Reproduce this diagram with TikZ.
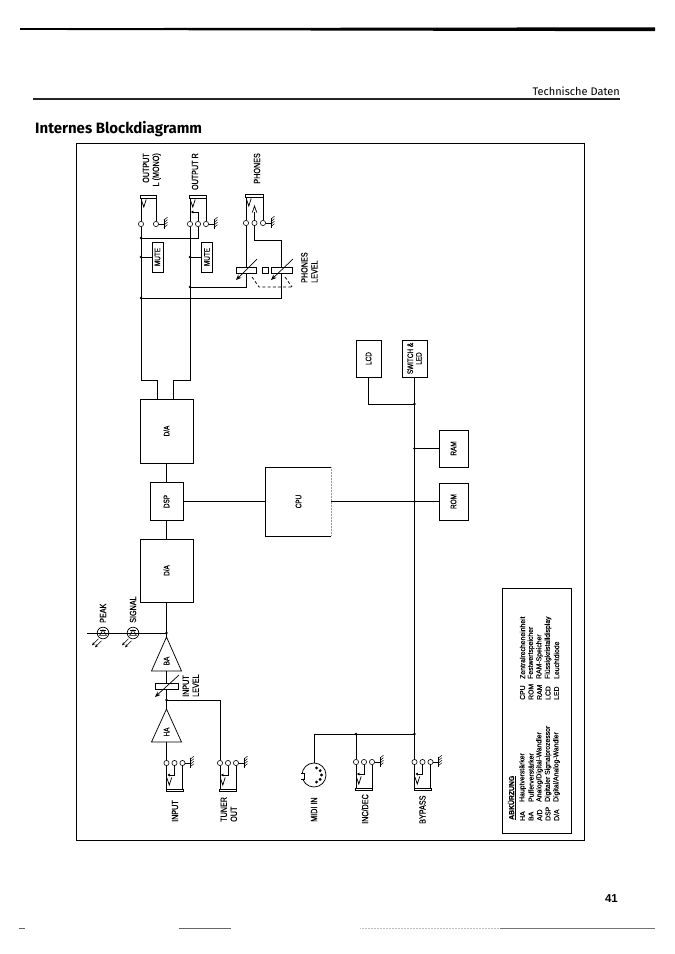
\documentclass[tikz,border=0pt]{standalone}
\usepackage{fontspec}
\usepackage{graphicx}
\setmainfont{Liberation Sans}
\newfontfamily\narf{Liberation Sans}[FakeStretch=0.8, FakeBold=0.6]
\newfontfamily\legf{Liberation Sans}[FakeStretch=0.95, FakeBold=0.4]
\newfontfamily\titf{Fira Sans}
\usetikzlibrary{arrows.meta}

\tikzset{
 wire/.style={line width=0.75pt},
 blk/.style={draw, line width=0.75pt, inner sep=0pt, font=\narf\fontsize{8}{9}\selectfont},
 blbl/.style={inner sep=0pt, font=\narf\fontsize{8}{9}\selectfont},
 term/.style={circle, draw, line width=0.6pt, fill=white, inner sep=0pt, minimum size=5.2pt},
 jdot/.style={circle, fill, inner sep=0pt, minimum size=2.8pt},
 lbl/.style={rotate=90, inner sep=0pt, font=\narf\fontsize{9}{10}\selectfont},
 leg/.style={rotate=90, anchor=west, inner sep=0pt, font=\legf\fontsize{7.2}{8}\selectfont},
 potbox/.style={draw, line width=0.9pt, inner sep=0pt, minimum height=6pt},
 potarrow/.style={line width=0.7pt, -{Stealth[length=5.5pt,width=4.5pt]}},
 ledarrow/.style={line width=0.6pt, -{Stealth[length=3.2pt,width=2.8pt]}},
 swarrow/.style={line width=0.7pt, -{Triangle[length=2.4pt,width=2.8pt]}},
 gnd/.pic={
  \draw[line width=0.6pt] (2.6,0) -- (8,0);
  \draw[line width=0.7pt] (8,-5) -- (8,5);
  \foreach \k in {-4,-1.5,1,3.5}{\draw[line width=0.5pt] (8,\k) -- (11.5,\k-2.8);}
 },
 jacktopL/.pic={
  \node[term] (-t1) at (0,0) {};
  \node[term] (-t2) at (15,0) {};
  \draw[line width=0.6pt] (-0.3,-28.5) rectangle (15.3,-25.8);
  \draw[wire] (0,-2.6) -- (0,-25.8);
  \draw[wire] (0.4,-24) -- (2.8,-17) -- (5.2,-24.5);
  \draw[wire] (15,-2.6) -- (15,-25.8);
  \pic at (15,0) {gnd};
 },
 jacktopR/.pic={
  \node[term] (-t1) at (0,0) {};
  \node[term] (-t2) at (8,0) {};
  \node[term] (-t3) at (16,0) {};
  \draw[line width=0.6pt] (-0.3,-28.5) rectangle (16.3,-25.8);
  \draw[wire] (0,-2.6) -- (0,-25.8);
  \draw[wire] (0.4,-24) -- (2.8,-17) -- (5.2,-24.5);
  \draw[swarrow] (8,-2.6) -- (8,-12) -- (1,-12);
  \draw[wire] (16,-2.6) -- (16,-25.8);
  \pic at (16,0) {gnd};
 },
 jackph/.pic={
  \node[term] (-t1) at (0,0) {};
  \node[term] (-t2) at (8.5,0) {};
  \node[term] (-t3) at (17,0) {};
  \draw[line width=0.6pt] (-0.3,-28.5) rectangle (17.3,-25.8);
  \draw[wire] (0,-2.6) -- (0,-25.8);
  \draw[wire] (0.4,-24) -- (2.8,-17) -- (5.2,-24.5);
  \draw[wire] (8.5,-2.6) -- (8.5,-11);
  \draw[wire] (6.3,-10.5) -- (8.5,-17) -- (10.7,-10.5);
  \draw[wire] (17,-2.6) -- (17,-25.8);
  \pic at (17,0) {gnd};
 },
 jackbot/.pic={
  \node[term] (-t1) at (0,0) {};
  \node[term] (-t2) at (8,0) {};
  \node[term] (-t3) at (16,0) {};
  \draw[line width=0.6pt] (-0.3,25.8) rectangle (16.3,28.5);
  \draw[wire] (0,2.6) -- (0,25.8);
  \draw[wire] (0.4,15) -- (2.8,22) -- (5.2,14.5);
  \draw[swarrow] (8,2.6) -- (8,12) -- (1,12);
  \draw[wire] (16,2.6) -- (16,25.8);
  \pic at (16,0) {gnd};
 },
 led/.pic={
  \draw[line width=0.7pt] (0,0) circle (5.8);
  \draw[line width=0.6pt] (-3.4,2.4) -- (3.4,2.4) -- (0,-3.2) -- cycle;
  \draw[line width=0.6pt] (-3.4,-3.2) -- (3.4,-3.2);
  \draw[ledarrow] (-4.5,5.8) -- (-11,12.3);
  \draw[ledarrow] (-1.5,7.8) -- (-8,14.3);
 },
}

\begin{document}
\begin{tikzpicture}[x=1pt,y=-1pt]
\useasboundingbox (0,0) rectangle (675,954);
\fill[white] (0,0) rectangle (675,954);

% page header / footer
\fill[black] (20,28.2) -- (655,27.3) -- (655,31.2) -- (20,29.9) -- cycle;
\draw[line width=1.3pt, black!85] (33,99) -- (620,99);
\node[anchor=base east, inner sep=0pt, font=\titf\fontsize{11}{13}\selectfont] (head) at (620,95) {Technische Daten};
\node[anchor=base west, inner sep=0pt, font=\titf\bfseries\fontsize{15}{18}\selectfont] (title) at (35,133) {Internes Blockdiagramm};
\node[anchor=base east, inner sep=0pt, font=\bfseries\fontsize{11.5}{13}\selectfont] (pg) at (618,902) {41};
\draw[line width=0.8pt, black!60] (19,928) -- (25,928);
\draw[line width=1pt, black!60] (179,928) -- (231,928);
\draw[line width=0.5pt, black!25, densely dotted] (360,928.5) -- (500,928.5);
\draw[line width=0.8pt, black!55] (500,928.5) -- (655,928.5);

% frame
\draw[line width=0.8pt] (76,143) rectangle (584,840);

% jacks
\pic (oL) at (141,224) {jacktopL};
\pic (oR) at (190,224) {jacktopR};
\pic (ph) at (246,223) {jackph};
\pic (in) at (166.5,763) {jackbot};
\pic (tu) at (220,763) {jackbot};
\pic (id) at (356,762) {jackbot};
\pic (by) at (414.5,762) {jackbot};

% labels of jacks
\node[lbl, anchor=north east, align=right] (lOL) at (142.5,153) {OUTPUT\\L (MONO)};
\node[lbl, anchor=east] (lOR) at (195,153) {OUTPUT R};
\node[lbl, anchor=east] (lPH) at (257,153) {PHONES};
\node[lbl, anchor=west] (lIN) at (175,822) {INPUT};
\node[lbl, anchor=north west, align=left] (lTU) at (220.5,822) {TUNER\\OUT};
\node[lbl, anchor=west] (lMI) at (314,822) {MIDI IN};
\node[lbl, anchor=west] (lID) at (365,824) {INC/DEC};
\node[lbl, anchor=west] (lBY) at (422.5,824) {BYPASS};
\node[lbl, anchor=north west, align=left] (lPL) at (301,283) {PHONES\\LEVEL};
\node[lbl, anchor=north west, align=left] (lIL) at (182.5,697) {INPUT\\LEVEL};
\node[lbl, anchor=west] (lPK) at (103,623) {PEAK};
\node[lbl, anchor=west] (lSG) at (133,623) {SIGNAL};

% blocks
\node[blk, minimum width=11pt, minimum height=30pt] (mute1) at (157.5,257) {\rotatebox{90}{MUTE}};
\node[blk, minimum width=11pt, minimum height=30pt] (mute2) at (207,257) {\rotatebox{90}{MUTE}};
\node[blk, minimum width=53pt, minimum height=64pt] (da1) at (166.5,431) {\rotatebox{90}{D/A}};
\node[blk, minimum width=33pt, minimum height=38pt] (dsp) at (166.5,501.5) {\rotatebox{90}{DSP}};
\node[blk, minimum width=53pt, minimum height=63pt] (da2) at (166.5,570.5) {\rotatebox{90}{D/A}};
\node[blk, draw=none, minimum width=65pt, minimum height=68pt] (cpu) at (298.5,501.5) {\rotatebox{90}{CPU}};
\draw[line width=0.75pt] (cpu.north east) -- (cpu.north west) -- (cpu.south west) -- (cpu.south east);
\draw[line width=0.5pt, black!40, densely dotted] (cpu.north east) -- (cpu.south east);
\node[blk, minimum width=25pt, minimum height=37pt] (lcd) at (368.5,358.5) {\rotatebox{90}{LCD}};
\node[blk, minimum width=25pt, minimum height=37pt] (sw) at (414.5,358.5) {\rotatebox{90}{\shortstack{SWITCH \&\\LED}}};
\node[blk, minimum width=29pt, minimum height=37pt] (ram) at (453.5,448.5) {\rotatebox{90}{RAM}};
\node[blk, minimum width=29pt, minimum height=37pt] (rom) at (453.5,501.5) {\rotatebox{90}{ROM}};

% potentiometers
\node[potbox, minimum width=20pt] (pot1) at (246,270) {};
\node[potbox, minimum width=21pt] (pot2) at (281.5,270) {};
\node[draw, line width=0.7pt, inner sep=0pt, minimum size=6pt] (knob) at (265,270) {};
\node[potbox, minimum width=23pt] (pot3) at (166.5,686) {};
\draw[potarrow] (257,259) -- (236,280);
\draw[potarrow] (293,259) -- (271,280);
\draw[potarrow] (179,675) -- (155,697);
\draw[wire, dash pattern=on 3pt off 2.2pt] (252,277) -- (259,287) -- (292,287);
\draw[wire, dash pattern=on 3pt off 2.2pt] (285,277) -- (292,287);

% amplifiers
\coordinate (baT) at (166.5,637);
\coordinate (baB) at (166.5,671);
\draw[wire] (151.5,671) -- (baT) -- (181.5,671) -- cycle;
\node[blbl] (baL) at (166.5,661) {\rotatebox{90}{BA}};
\coordinate (haT) at (166.5,709);
\coordinate (haB) at (166.5,742);
\draw[wire] (151.5,742) -- (haT) -- (181.5,742) -- cycle;
\node[blbl] (haL) at (166.5,732) {\rotatebox{90}{HA}};

% MIDI DIN socket
\node[circle, draw, line width=0.75pt, minimum size=24pt, inner sep=0pt] (midi) at (314,775) {};
\fill[white] (301,773) rectangle (303.2,779);
\draw[line width=0.6pt] (301.4,773) -- (304.6,773) -- (304.6,779) -- (301.4,779);
\foreach \a in {-70,-35,0,35,70}{\fill[shift={(midi.center)}] (\a:7.5) circle (1.6);}

% LEDs
\coordinate (cA) at (166.5,633);
\coordinate (ledEnd) at (87,633);
\draw[wire] (cA) -- (ledEnd);
\pic (ledS) at (133,633) {led};
\pic (ledP) at (103,633) {led};

% junction coordinates
\coordinate (cLa) at (141,238);
\coordinate (cLb) at (141,257);
\coordinate (cLc) at (141,298);
\coordinate (cLd) at (141,380);
\coordinate (cLe) at (157,380);
\coordinate (cRb) at (190,257);
\coordinate (cRc) at (190,287);
\coordinate (cRd) at (190,380);
\coordinate (cRe) at (173,380);
\coordinate (cP1) at (246,287);
\coordinate (cP2) at (254.5,240);
\coordinate (cP3) at (281.5,240);
\coordinate (cP4) at (281.5,298);
\coordinate (cB) at (166.5,700);
\coordinate (cT) at (220,700);
\coordinate (bus1) at (414.5,404);
\coordinate (bus2) at (414.5,448.5);
\coordinate (bus3) at (414.5,501.5);
\coordinate (bus4) at (414.5,734);
\coordinate (cLCD) at (368.5,404);
\coordinate (cM) at (314,734);
\coordinate (cI) at (356,734);

% wires: outputs
\draw[wire] (oL-t1) -- (cLd) -- (cLe) -- (cLe |- da1.north);
\draw[wire] (oR-t1) -- (cRd) -- (cRe) -- (cRe |- da1.north);
\draw[wire] (oR-t2) -- (oR-t2 |- cLa) -- (cLa);
\draw[wire] (cLb) -- (mute1);
\draw[wire] (cRb) -- (mute2);
\draw[wire] (ph-t1) -- (pot1);
\draw[wire] (pot1) -- (cP1) -- (cRc);
\draw[wire] (ph-t2) -- (cP2) -- (cP3) -- (pot2);
\draw[wire] (pot2) -- (cP4) -- (cLc);

% signal chain
\draw[wire] (da1) -- (dsp);
\draw[wire] (dsp) -- (da2);
\draw[wire] (da2) -- (cA) -- (baT);
\draw[wire] (baB) -- (pot3);
\draw[wire] (pot3) -- (cB) -- (haT);
\draw[wire] (haB) -- (in-t1);
\draw[wire] (cB) -- (cT) -- (tu-t1);

% control
\draw[wire] (dsp) -- (cpu);
\draw[wire] (cpu) -- (bus3) -- (rom);
\draw[wire] (lcd) -- (cLCD) -- (bus1);
\draw[wire] (sw) -- (bus1) -- (bus2) -- (bus3) -- (bus4) -- (by-t1);
\draw[wire] (bus2) -- (ram);
\draw[wire] (midi) -- (cM) -- (bus4);
\draw[wire] (cI) -- (id-t1);

% dots
\foreach \p in {cLa,cLb,cLc,cRb,cRc,cA,cB,bus1,bus2,bus3,bus4,cI}{\node[jdot] at (\p) {};}

% legend
\draw[line width=0.8pt] (502,588) rectangle (571,833);
\node[leg, font=\legf\bfseries\fontsize{7.2}{8}\selectfont] (abk) at (512,820) {\underline{ABKÜRZUNG}};
\node[leg] (a1) at (522.5,821) {HA};
\node[leg] (a2) at (531,821) {BA};
\node[leg] (a3) at (539.5,821) {A/D};
\node[leg] (a4) at (548,821) {DSP};
\node[leg] (a5) at (556.5,821) {D/A};
\node[leg] (d1) at (522.5,802) {Hauptverstärker};
\node[leg] (d2) at (531,802) {Pufferverstärker};
\node[leg] (d3) at (539.5,802) {Analog/Digital-Wandler};
\node[leg] (d4) at (548,802) {Digitaler Signalprozessor};
\node[leg] (d5) at (556.5,802) {Digital/Analog-Wandler};
\node[leg] (b1) at (522.5,700) {CPU};
\node[leg] (b2) at (531,700) {ROM};
\node[leg] (b3) at (539.5,700) {RAM};
\node[leg] (b4) at (548,700) {LCD};
\node[leg] (b5) at (556.5,700) {LED};
\node[leg] (e1) at (522.5,679) {Zentralrecheneinheit};
\node[leg] (e2) at (531,679) {Festwertspeicher};
\node[leg] (e3) at (539.5,679) {RAM-Speicher};
\node[leg] (e4) at (548,679) {Flüssigkristalldisplay};
\node[leg] (e5) at (556.5,679) {Leuchtdiode};
\end{tikzpicture}
\end{document}
